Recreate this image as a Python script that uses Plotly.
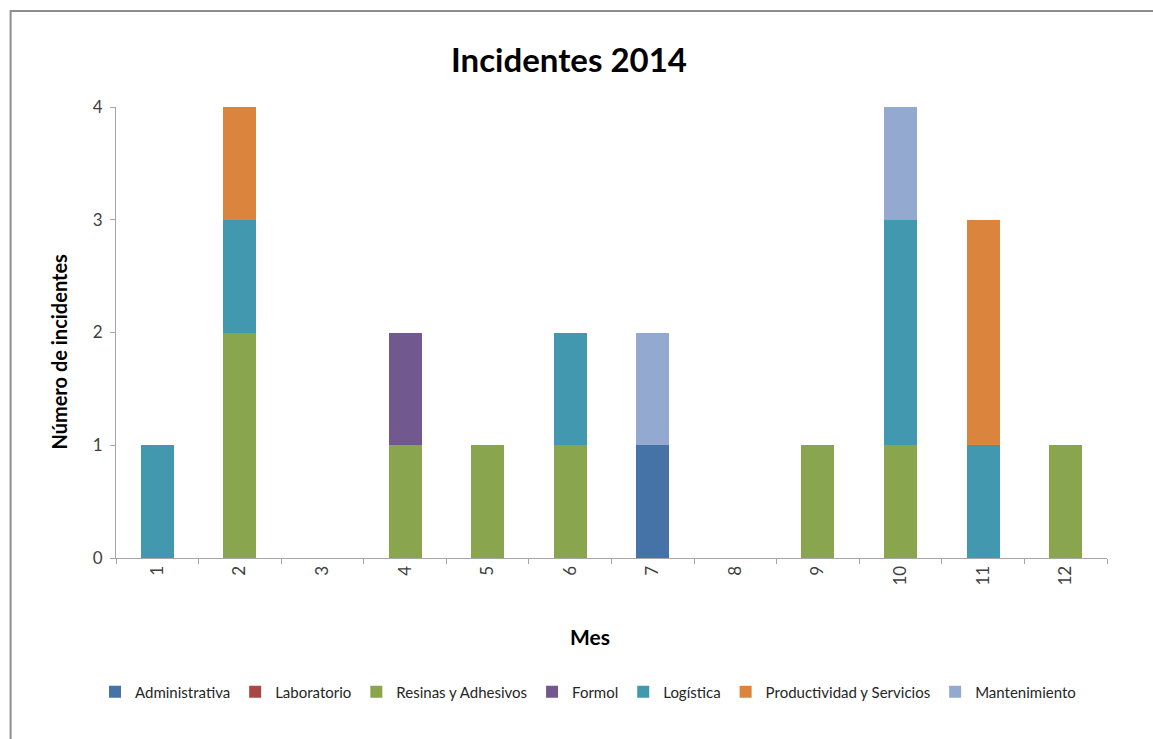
import plotly.graph_objects as go

# Monthly incident counts for 2014, stacked by area
meses = ["1", "2", "3", "4", "5", "6", "7", "8", "9", "10", "11", "12"]

administrativa = [0, 0, 0, 0, 0, 0, 1, 0, 0, 0, 0, 0]
laboratorio = [0, 0, 0, 0, 0, 0, 0, 0, 0, 0, 0, 0]
resinas_adhesivos = [0, 2, 0, 1, 1, 1, 0, 0, 1, 1, 0, 1]
formol = [0, 0, 0, 1, 0, 0, 0, 0, 0, 0, 0, 0]
logistica = [1, 1, 0, 0, 0, 1, 0, 0, 0, 2, 1, 0]
productividad_servicios = [0, 1, 0, 0, 0, 0, 0, 0, 0, 0, 2, 0]
mantenimiento = [0, 0, 0, 0, 0, 0, 1, 0, 0, 1, 0, 0]

series = [
    ("Administrativa", administrativa, "#4572A7"),
    ("Laboratorio", laboratorio, "#AA4643"),
    ("Resinas y Adhesivos", resinas_adhesivos, "#89A54E"),
    ("Formol", formol, "#71588F"),
    ("Logística", logistica, "#4198AF"),
    ("Productividad y Servicios", productividad_servicios, "#DB843D"),
    ("Mantenimiento", mantenimiento, "#93A9CF"),
]

W, H = 1153, 739
L, R, T, B = 115.5, 45.5, 107, 181
pw, ph = W - L - R, H - T - B


def px_x(p):
    return (p - L) / pw


def px_y(p):
    return (H - B - p) / ph


fig = go.Figure()
for nombre, valores, color in series:
    fig.add_trace(go.Bar(
        x=meses, y=valores, name=nombre,
        marker=dict(color=color, line=dict(width=0)),
    ))

axis_color = "#a6a6a6"
tick_font = dict(family="Lato", size=17, color="#404040")

fig.update_layout(
    width=W, height=H,
    margin=dict(l=L, r=R, t=T, b=B, pad=0),
    paper_bgcolor="white", plot_bgcolor="white",
    barmode="stack", bargap=0.6,
    font=dict(family="Lato", color="#404040"),
    title=dict(
        text="<b>Incidentes 2014</b>",
        font=dict(family="Lato", size=33, color="black"),
        x=569 / W, xanchor="center",
        y=1 - 60 / H, yanchor="middle",
    ),
    xaxis=dict(
        type="category", tickson="boundaries",
        showline=True, linecolor=axis_color, linewidth=1,
        ticks="outside", ticklen=5, tickcolor=axis_color,
        tickangle=-90, tickfont=tick_font,
        showgrid=False, zeroline=False,
    ),
    yaxis=dict(
        range=[0, 4], dtick=1, tick0=0,
        showline=True, linecolor=axis_color, linewidth=1,
        ticks="outside", ticklen=5, tickcolor=axis_color,
        tickfont=tick_font, ticklabelstandoff=4,
        showgrid=False, zeroline=False,
    ),
    legend=dict(
        orientation="h", traceorder="normal",
        x=px_x(588), xanchor="center",
        y=px_y(692), yanchor="middle",
        font=dict(family="Lato", size=15, color="#262626"),
        itemwidth=30, tracegroupgap=0,
        bgcolor="rgba(0,0,0,0)",
    ),
    showlegend=True,
)

# Axis titles
fig.add_annotation(
    text="<b>Número de incidentes</b>", textangle=-90,
    xref="paper", yref="paper", x=px_x(58), y=px_y(352),
    xanchor="center", yanchor="middle", showarrow=False,
    font=dict(family="Lato", size=20, color="black"),
)
fig.add_annotation(
    text="<b>Mes</b>",
    xref="paper", yref="paper", x=px_x(590), y=px_y(636),
    xanchor="center", yanchor="middle", showarrow=False,
    font=dict(family="Lato", size=21, color="black"),
)

# Chart frame along the top and left edges
fig.add_shape(
    type="path", xref="paper", yref="paper",
    path=f"M {px_x(10)},{px_y(760)} L {px_x(10)},{px_y(11)} L {px_x(1170)},{px_y(11)}",
    line=dict(color="#8e8e8e", width=2),
)

fig.write_html("out.html")
